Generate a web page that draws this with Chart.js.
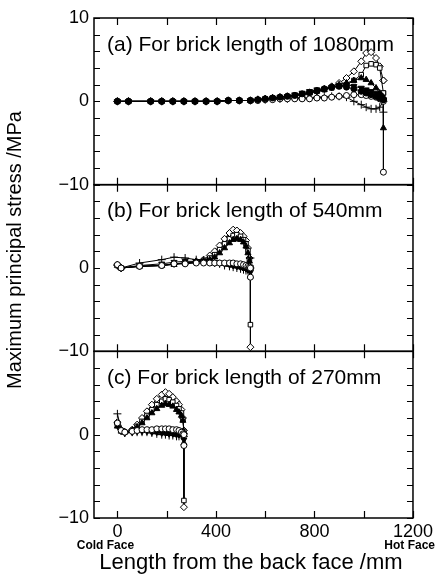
<!DOCTYPE html>
<meta charset="UTF-8" />
<style>
  html, body { margin: 0; padding: 0; background: #fff; }
</style>
<div>
  <canvas id="myChart" width="436" height="574"></canvas>
</div>
<script src="https://cdn.jsdelivr.net/npm/chart.js@4.4.1/dist/chart.umd.min.js"></script>
<script>
// panel (a) brick length 1080mm
const ax = [0, 45, 135, 180, 225, 270, 315, 360, 405, 450, 495, 540, 570, 600, 630, 660, 690, 720, 750, 780, 810, 840, 870, 900, 930, 960, 990, 1010, 1030, 1050, 1065, 1080, 1080];
const aDiamond  = [0, 0, 0, 0, 0, 0, 0, 0, 0, 0.1, 0.1, 0.1, 0.2, 0.3, 0.4, 0.5, 0.6, 0.7, 0.8, 1.0, 1.2, 1.5, 1.8, 2.2, 2.8, 3.6, 4.8, 5.8, 5.9, 5.2, 4.2, 2.5, 2.5];
const aSquare   = [0, 0, 0, 0, 0, 0, 0, 0, 0, 0.1, 0.1, 0.1, 0.2, 0.3, 0.4, 0.5, 0.6, 0.7, 0.8, 1.0, 1.2, 1.4, 1.6, 1.8, 2.0, 2.5, 3.2, 4.3, 4.5, 4.4, 4.0, 1.0, 1.0];
const aTriangle = [0, 0, 0, 0, 0, 0, 0, 0, 0, 0.1, 0.1, 0.1, 0.2, 0.3, 0.4, 0.5, 0.6, 0.7, 0.8, 1.0, 1.2, 1.4, 1.7, 2.0, 2.2, 2.5, 2.8, 2.6, 2.2, 1.6, 1.0, 0.5, -3.2];
const aInvTri   = [0, 0, 0, 0, 0, 0, 0, 0, 0, 0.1, 0.1, 0.1, 0.2, 0.3, 0.4, 0.5, 0.6, 0.8, 1.0, 1.2, 1.4, 1.5, 1.7, 1.9, 2.0, 1.8, 1.6, 1.4, 1.2, 1.0, 0.8, 0.2, 0.2];
const aDot      = [0, 0, 0, 0, 0, 0, 0, 0, 0, 0.1, 0.1, 0.1, 0.2, 0.3, 0.4, 0.5, 0.6, 0.7, 0.9, 1.1, 1.3, 1.5, 1.7, 1.8, 1.7, 1.5, 1.2, 1.0, 0.8, 0.6, 0.4, 0.2, 0.2];
const aCircle   = [0, 0, 0, 0, 0, 0, 0, 0, 0, 0.1, 0.1, 0.1, 0.1, 0.2, 0.2, 0.3, 0.3, 0.3, 0.3, 0.3, 0.4, 0.4, 0.5, 0.6, 0.7, 0.8, 0.8, 0.7, 0.6, 0.5, 0.3, 0.0, -8.5];
const aPlus     = [0, 0, 0, 0, 0, 0, 0, 0, 0, 0.1, 0.1, 0.1, 0.2, 0.2, 0.3, 0.3, 0.3, 0.4, 0.4, 0.4, 0.5, 0.5, 0.6, 0.6, 0.5, 0.0, -0.4, -0.7, -0.9, -0.9, -0.7, 0.0, -1.3];

// panel (b) brick length 540mm
const bx = [0, 15, 90, 180, 230, 275, 320, 350, 375, 395, 415, 435, 455, 470, 485, 500, 512, 522, 530, 536, 540, 540];
const bDiamond  = [0.4, 0.0, 0.2, 0.3, 0.5, 0.6, 0.8, 1.0, 1.5, 2.0, 2.7, 3.5, 4.2, 4.6, 4.5, 4.2, 3.8, 3.3, 2.4, 1.2, 0.0, -9.5];
const bSquare   = [0.3, 0.0, 0.2, 0.3, 0.5, 0.6, 0.7, 0.9, 1.2, 1.6, 2.2, 2.9, 3.5, 3.9, 4.0, 3.8, 3.4, 2.9, 2.1, 1.0, 0.1, -6.8];
const bTriangle = [0.3, 0.0, 0.2, 0.3, 0.4, 0.6, 0.7, 0.8, 1.0, 1.3, 1.8, 2.4, 3.0, 3.4, 3.5, 3.4, 3.1, 2.6, 1.8, 0.8, 0.0, -1.0];
const bInvTri   = [0.3, 0.0, 0.3, 0.5, 0.7, 0.8, 0.8, 0.8, 0.8, 0.7, 0.6, 0.5, 0.4, 0.3, 0.2, 0.1, 0.0, -0.1, -0.2, -0.1, 0.0, -0.5];
const bCircle   = [0.4, 0.0, 0.2, 0.3, 0.5, 0.5, 0.6, 0.6, 0.6, 0.6, 0.6, 0.6, 0.6, 0.6, 0.5, 0.5, 0.4, 0.3, 0.2, 0.1, 0.0, -1.1];
const bPlus     = [0.3, 0.0, 0.6, 1.0, 1.3, 1.2, 1.0, 0.9, 0.7, 0.6, 0.5, 0.3, 0.2, 0.1, 0.0, -0.1, -0.2, -0.3, -0.3, 0.3, 1.2, 0.0];

// panel (c) brick length 270mm
const cx = [0, 15, 30, 60, 80, 100, 120, 140, 160, 180, 195, 210, 225, 240, 250, 260, 266, 270, 270];
const cDiamond  = [1.5, 0.6, 0.3, 0.6, 1.2, 2.0, 2.8, 3.6, 4.3, 4.8, 5.1, 4.9, 4.5, 4.0, 3.6, 3.0, 2.0, 0.5, -8.7];
const cSquare   = [1.2, 0.5, 0.3, 0.5, 1.0, 1.6, 2.3, 3.0, 3.6, 4.0, 4.3, 4.2, 3.9, 3.5, 3.1, 2.6, 1.8, 0.4, -7.9];
const cTriangle = [1.0, 0.4, 0.3, 0.5, 0.9, 1.4, 2.0, 2.6, 3.1, 3.5, 3.7, 3.6, 3.4, 3.0, 2.7, 2.3, 1.7, 0.3, -1.0];
const cInvTri   = [1.1, 0.4, 0.2, 0.3, 0.4, 0.4, 0.4, 0.3, 0.3, 0.2, 0.2, 0.1, 0.1, 0.0, 0.0, 0.0, 0.1, 0.0, -0.6];
const cCircle   = [1.4, 0.5, 0.3, 0.4, 0.5, 0.6, 0.6, 0.6, 0.7, 0.7, 0.7, 0.7, 0.6, 0.6, 0.5, 0.3, 0.1, 0.0, -1.3];
const cPlus     = [2.5, 0.7, 0.2, 0.3, 0.3, 0.3, 0.3, 0.2, 0.1, 0.0, 0.0, -0.1, -0.1, -0.2, -0.2, -0.1, 0.0, 0.1, -0.2];

const panelLabels = ["(a) For brick length of 1080mm", "(b) For brick length of 540mm", "(c) For brick length of 270mm"];
const xTickLabels = [0, 400, 800, 1200];
const yTickLabels = [10, 0, -10];

const FONT = "'Liberation Sans', Arial, Helvetica, sans-serif";
Chart.defaults.font.family = FONT;
Chart.defaults.color = "#000";

// marker styles
const mk = {
  diamond:  { pointStyle: "rectRot",  pointBackgroundColor: "#fff", pointRadius: 3.5 },
  square:   { pointStyle: "rect",     pointBackgroundColor: "#fff", pointRadius: 3.2 },
  triangle: { pointStyle: "triangle", pointBackgroundColor: "#000", pointRadius: 3.5 },
  invtri:   { pointStyle: "triangle", pointBackgroundColor: "#000", pointRadius: 3.5, pointRotation: 180 },
  dot:      { pointStyle: "circle",   pointBackgroundColor: "#000", pointRadius: 3 },
  circle:   { pointStyle: "circle",   pointBackgroundColor: "#fff", pointRadius: 3 },
  plus:     { pointStyle: "cross",    pointBackgroundColor: "#000", pointRadius: 4 }
};

function series(xs, ys, style, axis) {
  return Object.assign({
    data: xs.map((v, i) => ({ x: v, y: ys[i] })),
    yAxisID: axis,
    borderColor: "#000",
    borderWidth: 1,
    pointBorderColor: "#000",
    pointBorderWidth: 1,
    tension: 0,
    fill: false
  }, mk[style]);
}

const datasets = [
  series(ax, aDot, "dot", "ya"),
  series(ax, aCircle, "circle", "ya"),
  series(ax, aPlus, "plus", "ya"),
  series(ax, aInvTri, "invtri", "ya"),
  series(ax, aTriangle, "triangle", "ya"),
  series(ax, aSquare, "square", "ya"),
  series(ax, aDiamond, "diamond", "ya"),

  series(bx, bCircle, "circle", "yb"),
  series(bx, bPlus, "plus", "yb"),
  series(bx, bInvTri, "invtri", "yb"),
  series(bx, bTriangle, "triangle", "yb"),
  series(bx, bSquare, "square", "yb"),
  series(bx, bDiamond, "diamond", "yb"),

  series(cx, cCircle, "circle", "yc"),
  series(cx, cPlus, "plus", "yc"),
  series(cx, cInvTri, "invtri", "yc"),
  series(cx, cTriangle, "triangle", "yc"),
  series(cx, cSquare, "square", "yc"),
  series(cx, cDiamond, "diamond", "yc")
];

function yAxis(showTop) {
  return {
    type: "linear",
    position: "left",
    stack: "panels",
    stackWeight: 1,
    min: -10,
    max: 10,
    grid: { display: false, drawTicks: false },
    border: { display: false },
    ticks: {
      stepSize: 2,
      autoSkip: false,
      padding: 5,
      font: { size: 18 },
      callback: function (v) {
        if (v === 10 && !showTop) return "";
        if (yTickLabels.indexOf(v) < 0) return "";
        return v < 0 ? "\u2212" + Math.abs(v) : String(v);
      }
    },
    afterFit: function (s) { s.width = 94; }
  };
}

// frame, inward ticks and all the loose text
const framePlugin = {
  id: "frame",
  afterDatasetsDraw(chart) {
    const ctx = chart.ctx;
    const x = chart.scales.x;
    ctx.save();
    ctx.strokeStyle = "#000";
    ctx.fillStyle = "#000";
    ["ya", "yb", "yc"].forEach(function (id, i) {
      const s = chart.scales[id];
      ctx.lineWidth = 1.5;
      ctx.strokeRect(x.left, s.top, x.right - x.left, s.bottom - s.top);
      ctx.lineWidth = 1.2;
      ctx.beginPath();
      s.ticks.forEach(function (t) {
        const py = Math.round(s.getPixelForValue(t.value)) + 0.5;
        ctx.moveTo(x.left, py); ctx.lineTo(x.left + 6, py);
        ctx.moveTo(x.right - 6, py); ctx.lineTo(x.right, py);
      });
      x.ticks.forEach(function (t) {
        const px = Math.round(x.getPixelForValue(t.value)) + 0.5;
        ctx.moveTo(px, s.top); ctx.lineTo(px, s.top + 7);
        ctx.moveTo(px, s.bottom - 7); ctx.lineTo(px, s.bottom);
      });
      ctx.stroke();
      ctx.font = "21px " + FONT;
      ctx.textAlign = "left";
      ctx.textBaseline = "middle";
      ctx.fillText(panelLabels[i], x.left + 13, s.top + 27);
    });
    ctx.font = "bold 12px " + FONT;
    ctx.textBaseline = "middle";
    ctx.textAlign = "center";
    ctx.fillText("Cold Face", x.getPixelForValue(0) - 12, 546);
    ctx.textAlign = "right";
    ctx.fillText("Hot Face", 435, 546);
    ctx.font = "22px " + FONT;
    ctx.textAlign = "center";
    ctx.fillText("Length from the back face /mm", 251, 563);
    ctx.translate(15, 250);
    ctx.rotate(-Math.PI / 2);
    ctx.font = "20px " + FONT;
    ctx.fillText("Maximum principal stress /MPa", 0, 0);
    ctx.restore();
  }
};

const config = {
  type: "line",
  data: { datasets: datasets },
  options: {
    responsive: false,
    animation: false,
    layout: { padding: { top: 18, right: 23, left: 0, bottom: 0 } },
    plugins: { legend: { display: false }, tooltip: { enabled: false } },
    scales: {
      x: {
        type: "linear",
        min: -95,
        max: 1200,
        grid: { display: false, drawTicks: false },
        border: { display: false },
        ticks: {
          stepSize: 200,
          includeBounds: false,
          autoSkip: false,
          maxRotation: 0,
          padding: 3,
          font: { size: 18 },
          callback: function (v) { return xTickLabels.indexOf(v) >= 0 ? String(v) : ""; }
        },
        afterFit: function (s) { s.height = 56; }
      },
      // stacked axes are laid out bottom first
      yc: yAxis(false),
      yb: yAxis(false),
      ya: yAxis(true)
    }
  },
  plugins: [framePlugin]
};

var myChart = new Chart(document.getElementById("myChart"), config);
</script>
